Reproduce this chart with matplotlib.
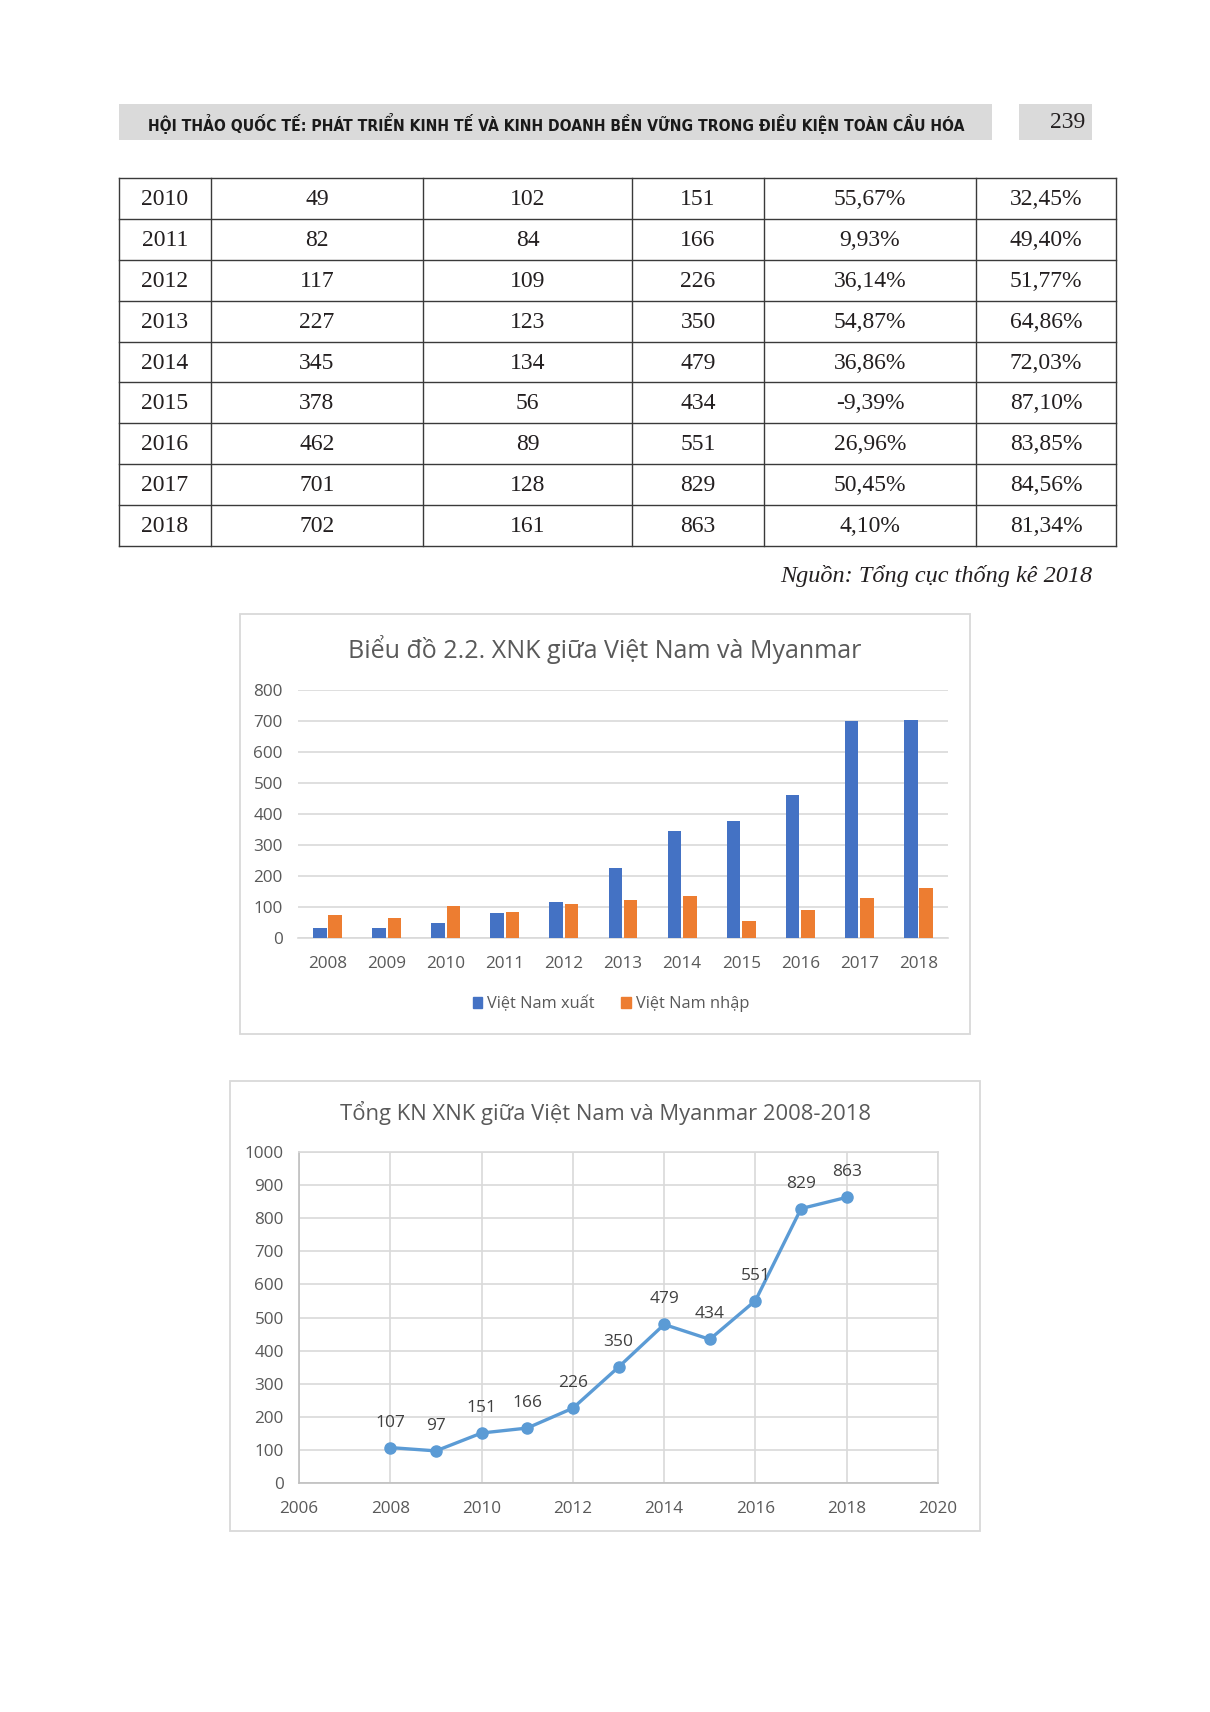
import matplotlib

matplotlib.use("Agg")
import matplotlib.pyplot as plt
import numpy as np
from matplotlib.patches import Rectangle, Patch

# ---- data -------------------------------------------------------------
years = [2008, 2009, 2010, 2011, 2012, 2013, 2014, 2015, 2016, 2017, 2018]
exports = [32, 31, 49, 82, 117, 227, 345, 378, 462, 701, 702]
imports = [75, 66, 102, 84, 109, 123, 134, 56, 89, 128, 161]
totals = [107, 97, 151, 166, 226, 350, 479, 434, 551, 829, 863]

table_years = [2010, 2011, 2012, 2013, 2014, 2015, 2016, 2017, 2018]
table_growth = ["55,67%", "9,93%", "36,14%", "54,87%", "36,86%",
                "-9,39%", "26,96%", "50,45%", "4,10%"]
table_share = ["32,45%", "49,40%", "51,77%", "64,86%", "72,03%",
               "87,10%", "83,85%", "84,56%", "81,34%"]

header_text = ("HỘI THẢO QUỐC TẾ: PHÁT TRIỂN KINH TẾ VÀ KINH DOANH BỀN VỮNG "
               "TRONG ĐIỀU KIỆN TOÀN CẦU HÓA")
page_no = "239"
source_text = "Nguồn: Tổng cục thống kê 2018"
bar_title = "Biểu đồ 2.2. XNK giữa Việt Nam và Myanmar"
line_title = "Tổng KN XNK giữa Việt Nam và Myanmar 2008-2018"
series_names = ["Việt Nam xuất", "Việt Nam nhập"]

# ---- layout (pixels on a 1210x1712 page) -----------------------------
W, H = 1210, 1712
SERIF = ["Liberation Serif", "DejaVu Serif"]
SANS = ["Open Sans", "DejaVu Sans"]
GRID = "#D9D9D9"
TICK = "#595959"


def box(x0, y0, x1, y1):
    return [x0 / W, 1 - y1 / H, (x1 - x0) / W, (y1 - y0) / H]


def fit_width(txt, target_px):
    # scale a text's font so it spans target_px on the page
    w = txt.get_window_extent(fig.canvas.get_renderer()).width
    txt.set_fontsize(txt.get_fontsize() * target_px / w)


fig = plt.figure(figsize=(W / 100, H / 100), dpi=100)
fig.patch.set_facecolor("white")

page = fig.add_axes([0, 0, 1, 1])
page.set_xlim(0, W)
page.set_ylim(H, 0)
page.axis("off")

# header band
page.add_patch(Rectangle((119, 104), 873, 36, facecolor="#DADADA", edgecolor="none"))
page.add_patch(Rectangle((1019, 104), 73, 36, facecolor="#DADADA", edgecolor="none"))
hdr = page.text(556, 123, header_text, ha="center", va="center", fontsize=13,
                fontweight="bold", family=["DejaVu Sans"], fontstretch="condensed",
                color="#1a1a1a")
fit_width(hdr, 816)
page.text(1068, 122, page_no, ha="center", va="center", fontsize=17,
          family=SERIF, color="#231F20")

# table
col_x = [119, 211, 423, 632, 764, 976, 1116]
t_top, t_bot = 178, 546
row_h = (t_bot - t_top) / len(table_years)
for x in col_x:
    page.plot([x, x], [t_top, t_bot], color="#3a3a3a", lw=1.0)
for i in range(len(table_years) + 1):
    y = t_top + i * row_h
    page.plot([col_x[0], col_x[-1]], [y, y], color="#3a3a3a", lw=1.0)

for i, yr in enumerate(table_years):
    k = years.index(yr)
    cells = [str(yr), str(exports[k]), str(imports[k]), str(totals[k]),
             table_growth[i], table_share[i]]
    yc = t_top + (i + 0.5) * row_h + 1
    for j, c in enumerate(cells):
        xc = (col_x[j] + col_x[j + 1]) / 2
        page.text(xc, yc, c, ha="center", va="center", fontsize=17,
                  family=SERIF, color="#231F20")

page.text(1092, 576, source_text, ha="right", va="center", fontsize=17.5,
          family=SERIF, style="italic", color="#231F20")

# chart frames
page.add_patch(Rectangle((240, 614), 730, 420, facecolor="white",
                         edgecolor=GRID, lw=1.3))
page.add_patch(Rectangle((230, 1081), 750, 450, facecolor="white",
                         edgecolor=GRID, lw=1.3))
page.text(605, 649, bar_title, ha="center", va="center", fontsize=18,
          family=SANS, color=TICK)
page.text(605, 1113, line_title, ha="center", va="center", fontsize=15.8,
          family=SANS, color=TICK)

# ---- bar chart -------------------------------------------------------
ax1 = fig.add_axes(box(298, 690, 948, 938))
x = np.arange(len(years))
ax1.bar(x - 0.13, exports, width=0.23, color="#4472C4", zorder=3)
ax1.bar(x + 0.13, imports, width=0.23, color="#ED7D31", zorder=3)
ax1.set_xlim(-0.5, len(years) - 0.5)
ax1.set_ylim(0, 800)
ax1.set_yticks(range(0, 801, 100))
ax1.set_xticks(x)
ax1.set_xticklabels([str(y) for y in years])
ax1.yaxis.grid(True, color=GRID, lw=1.2, zorder=0)
ax1.set_axisbelow(True)
for s in ["top", "right", "left"]:
    ax1.spines[s].set_visible(False)
ax1.spines["bottom"].set_color(GRID)
ax1.spines["bottom"].set_linewidth(1.2)
ax1.tick_params(axis="both", length=0, labelsize=12.3, labelcolor=TICK)
ax1.tick_params(axis="x", pad=13)
ax1.tick_params(axis="y", pad=11)
for lbl in ax1.get_xticklabels() + ax1.get_yticklabels():
    lbl.set_family(SANS)

handles = [Patch(color="#4472C4"), Patch(color="#ED7D31")]
leg = ax1.legend(handles, series_names, loc="center", ncol=2,
                 bbox_to_anchor=(611 / W, 1 - 1004 / H),
                 bbox_transform=fig.transFigure, frameon=False,
                 handlelength=0.6, handleheight=0.6, handletextpad=0.3,
                 columnspacing=1.6, prop={"family": SANS, "size": 11.8})
for t in leg.get_texts():
    t.set_color(TICK)

# ---- line chart ------------------------------------------------------
ax2 = fig.add_axes(box(299, 1152, 938, 1483))
ax2.plot(years, totals, color="#5B9BD5", lw=2.4, marker="o", ms=8, zorder=3)
for yr, v in zip(years, totals):
    ax2.annotate(str(v), (yr, v), xytext=(0, 18), textcoords="offset points",
                 ha="center", va="center", fontsize=12.5, family=SANS,
                 color="#404040")
ax2.set_xlim(2006, 2020)
ax2.set_ylim(0, 1000)
ax2.set_xticks(range(2006, 2021, 2))
ax2.set_yticks(range(0, 1001, 100))
ax2.grid(True, color=GRID, lw=1.2, zorder=0)
ax2.set_axisbelow(True)
for s in ax2.spines.values():
    s.set_color(GRID)
    s.set_linewidth(1.2)
ax2.spines["left"].set_color("#BFBFBF")
ax2.spines["bottom"].set_color("#BFBFBF")
ax2.tick_params(axis="both", length=0, labelsize=12.3, labelcolor=TICK)
ax2.tick_params(axis="x", pad=13)
ax2.tick_params(axis="y", pad=11)
for lbl in ax2.get_xticklabels() + ax2.get_yticklabels():
    lbl.set_family(SANS)

fig.savefig("out.png", dpi=100, facecolor="white")
